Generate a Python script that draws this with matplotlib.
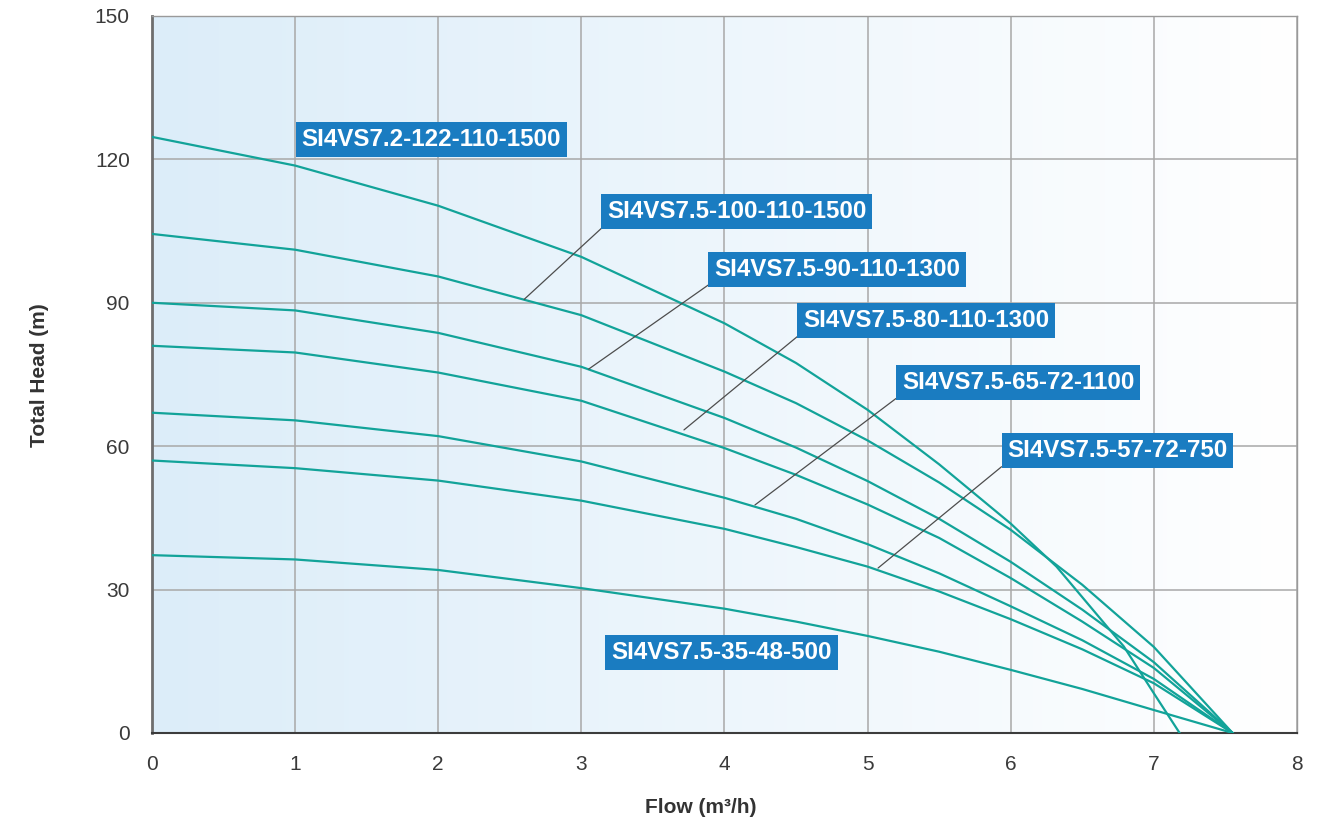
import numpy as np
import matplotlib.pyplot as plt
from matplotlib.colors import LinearSegmentedColormap

plt.rcParams['font.family'] = ['Liberation Sans', 'DejaVu Sans']

# pump curves: flow (m3/h) -> total head (m)
flow_122 = [0, 1, 2, 3, 4, 4.5, 5, 5.5, 6, 6.32, 6.79, 7, 7.18]
head_122 = [124.7, 118.7, 110.3, 99.6, 85.7, 77.4, 67.6, 56.2, 43.8, 34.8, 18.1, 8.3, 0]

flow = [0, 1, 2, 3, 4, 4.5, 5, 5.5, 6, 6.5, 7, 7.55]
head_100 = [104.4, 101.1, 95.5, 87.4, 75.6, 69.0, 61.2, 52.4, 42.5, 31.0, 18.0, 0]
head_90 = [90.0, 88.4, 83.7, 76.6, 65.9, 59.7, 52.7, 44.8, 35.8, 25.8, 14.8, 0]
head_80 = [81.0, 79.6, 75.4, 69.5, 59.6, 54.0, 47.8, 40.8, 32.4, 23.3, 13.6, 0]
head_65 = [67.0, 65.4, 62.1, 56.8, 49.2, 44.8, 39.5, 33.4, 26.5, 19.4, 11.3, 0]
head_57 = [57.0, 55.4, 52.8, 48.6, 42.7, 38.9, 34.8, 29.6, 23.8, 17.5, 10.4, 0]
head_35 = [37.2, 36.3, 34.1, 30.3, 26.0, 23.3, 20.3, 17.0, 13.2, 9.2, 4.8, 0]

labels = ['SI4VS7.2-122-110-1500', 'SI4VS7.5-100-110-1500', 'SI4VS7.5-90-110-1300',
          'SI4VS7.5-80-110-1300', 'SI4VS7.5-65-72-1100', 'SI4VS7.5-57-72-750',
          'SI4VS7.5-35-48-500']

x_ticks = [0, 1, 2, 3, 4, 5, 6, 7, 8]
y_ticks = [0, 30, 60, 90, 120, 150]


def main():
    teal = '#12a399'
    boxblue = '#1a7cc1'

    fig = plt.figure(figsize=(13.32, 8.27), dpi=100)
    ax = fig.add_axes([0.1141, 0.1137, 0.8596, 0.8670])

    # light blue -> white background
    cmap = LinearSegmentedColormap.from_list('bg', ['#dcedf9', '#ffffff'])
    grad = np.linspace(0, 1, 256).reshape(1, -1)
    ax.imshow(grad, cmap=cmap, extent=[0, 8, 0, 150], aspect='auto', zorder=0)

    ax.plot(flow_122, head_122, color=teal, lw=1.6, zorder=3)
    for h in [head_100, head_90, head_80, head_65, head_57, head_35]:
        ax.plot(flow, h, color=teal, lw=1.6, zorder=3)

    ax.set_xlim(0, 8)
    ax.set_ylim(0, 150)
    ax.set_xticks(x_ticks)
    ax.set_yticks(y_ticks)
    ax.grid(True, color='#a8a8a8', lw=1.1, zorder=1)
    ax.set_axisbelow(True)
    ax.tick_params(length=0, labelsize=15, labelcolor='#3a3a3a', pad=16)

    ax.spines['left'].set_color('#6e6e6e')
    ax.spines['left'].set_linewidth(2.0)
    ax.spines['bottom'].set_color('#3c3c3c')
    ax.spines['bottom'].set_linewidth(1.5)
    for s in ['top', 'right']:
        ax.spines[s].set_color('#9a9a9a')
        ax.spines[s].set_linewidth(1.0)

    box = dict(boxstyle='square,pad=0.24', fc=boxblue, ec='none')
    txt = dict(color='white', fontsize=17.4, fontweight='bold',
               ha='center', va='center', zorder=6)
    line = dict(arrowstyle='-', color='#4d4d4d', lw=0.9, relpos=(0, 0),
                shrinkA=0, shrinkB=0)

    # labels without leaders
    ax.text(1.953, 124.2, labels[0], bbox=box, **txt)
    ax.text(3.979, 16.8, labels[6], bbox=box, **txt)

    # labels with leader lines to the curves
    ax.annotate(labels[1], xy=(2.6, 90.7), xytext=(4.087, 109.1),
                bbox=box, arrowprops=line, **txt)
    ax.annotate(labels[2], xy=(3.05, 76.1), xytext=(4.788, 97.0),
                bbox=box, arrowprops=line, **txt)
    ax.annotate(labels[3], xy=(3.717, 63.4), xytext=(5.408, 86.3),
                bbox=box, arrowprops=line, **txt)
    ax.annotate(labels[4], xy=(4.213, 47.7), xytext=(6.051, 73.3),
                bbox=box, arrowprops=line, **txt)
    ax.annotate(labels[5], xy=(5.073, 34.5), xytext=(6.746, 59.1),
                bbox=box, arrowprops=line, **txt)

    fig.text(0.5263, 0.0230, 'Flow (m³/h)', fontsize=15, fontweight='bold',
             color='#333333', ha='center', va='center')
    fig.text(0.0300, 0.5466, 'Total Head (m)', fontsize=15, fontweight='bold',
             color='#333333', ha='center', va='center', rotation=90)

    plt.savefig('out.png', dpi=100)


if __name__ == "__main__":
    main()
